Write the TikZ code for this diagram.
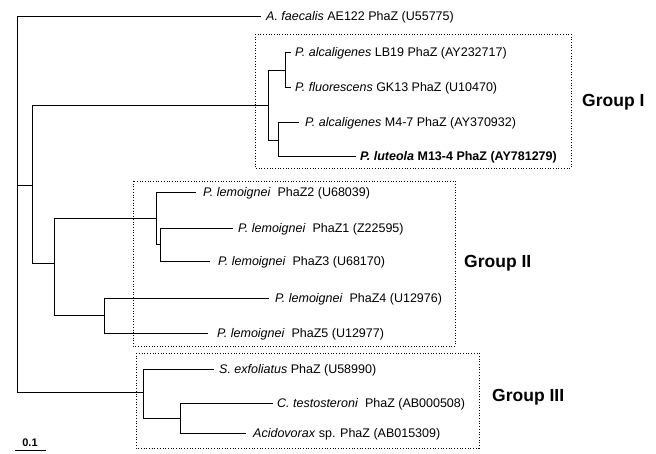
\documentclass[tikz,border=0pt]{standalone}
\usepackage{fontspec}
\setmainfont{Liberation Sans}
\begin{document}
\begin{tikzpicture}[x=1pt,y=-1pt,
  br/.style={line width=1pt, line cap=rect},
  leaf/.style={anchor=west, inner ysep=0pt, font=\fontsize{12.5}{14}\selectfont, text height=9pt, text depth=0pt},
  grp/.style={draw, dash pattern=on 0.9pt off 1.8pt, line width=0.8pt},
  glab/.style={anchor=west, inner sep=0pt, font=\fontsize{17.5}{19}\selectfont\bfseries}]
\useasboundingbox (0,0) rectangle (656,453);
% group boxes
\draw[grp] (255,34) rectangle (571,168);
\draw[grp] (133,181) rectangle (455,346);
\draw[grp] (136,353) rectangle (479,448);
\node[glab] (l1) at (582,102) {Group I};
\node[glab] (l2) at (464,263) {Group II};
\node[glab] (l3) at (492,397) {Group III};
% leaves
\node[leaf, inner xsep=6pt] (afae) at (260,16) {\textit{A. faecalis} AE122 PhaZ (U55775)};
\node[leaf, inner xsep=5pt] (lb19) at (290,52) {\textit{P. alcaligenes} LB19 PhaZ (AY232717)};
\node[leaf, inner xsep=5pt] (gk13) at (290,87) {\textit{P. fluorescens} GK13 PhaZ (U10470)};
\node[leaf, inner xsep=7pt] (m47) at (298,122) {\textit{P. alcaligenes} M4-7 PhaZ (AY370932)};
\node[leaf, inner xsep=5pt, font=\fontsize{12.5}{14}\selectfont\bfseries] (lut) at (355,156) {\textit{P. luteola} M13-4 PhaZ (AY781279)};
\node[leaf, inner xsep=8pt] (z2) at (195,192) {\textit{P. lemoignei}~ PhaZ2 (U68039)};
\node[leaf, inner xsep=6pt] (z1) at (232,228) {\textit{P. lemoignei}~ PhaZ1 (Z22595)};
\node[leaf, inner xsep=9pt] (z3) at (209,261) {\textit{P. lemoignei}~ PhaZ3 (U68170)};
\node[leaf, inner xsep=7pt] (z4) at (268,298) {\textit{P. lemoignei}~ PhaZ4 (U12976)};
\node[leaf, inner xsep=10pt] (z5) at (207,333) {\textit{P. lemoignei}~ PhaZ5 (U12977)};
\node[leaf, inner xsep=6pt] (sexf) at (213,369) {\textit{S. exfoliatus} PhaZ (U58990)};
\node[leaf, inner xsep=5pt] (ctes) at (272,403) {\textit{C. testosteroni}~ PhaZ (AB000508)};
\node[leaf, inner xsep=8pt] (acid) at (245,433) {\textit{Acidovorax} sp. PhaZ (AB015309)};
% internal nodes
\coordinate (r) at (17,185);
\coordinate (n1) at (32,185);
\coordinate (g1) at (268,105);
\coordinate (a) at (285,70);
\coordinate (b) at (278,140);
\coordinate (n2) at (54,263);
\coordinate (c) at (156,218);
\coordinate (e) at (160,244);
\coordinate (d) at (104,315);
\coordinate (g3) at (143,392);
\coordinate (f) at (180,418);
\draw[br] (r) |- (afae.west) (r) -- (n1) (r) |- (g3)
 (n1) |- (g1) (n1) |- (n2)
 (g1) |- (a) (g1) |- (b)
 (a) |- (lb19.west) (a) |- (gk13.west)
 (b) |- (m47.west) (b) |- (lut.west)
 (n2) |- (c) (n2) |- (d)
 (c) |- (z2.west) (c) |- (e)
 (e) |- (z1.west) (e) |- (z3.west)
 (d) |- (z4.west) (d) |- (z5.west)
 (g3) |- (sexf.west) (g3) |- (f)
 (f) |- (ctes.west) (f) |- (acid.west);
% scale bar
\coordinate (s1) at (15,450);
\coordinate (s2) at (46,450);
\draw[line width=1pt] (s1) -- (s2);
\node[inner sep=0pt, font=\fontsize{11}{12}\selectfont\bfseries] (sl) at (30,443) {0.1};
\end{tikzpicture}
\end{document}
